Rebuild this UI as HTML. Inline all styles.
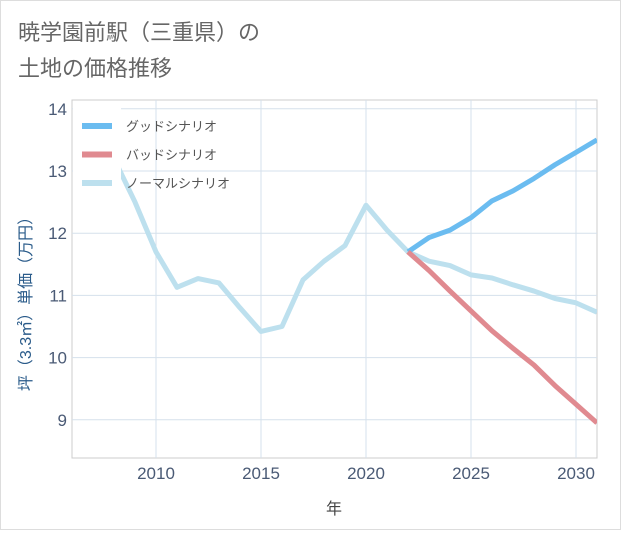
<!DOCTYPE html><html><head><meta charset="utf-8"><style>body{margin:0;background:#fff}svg{font-family:"Liberation Sans","Noto Sans CJK JP",sans-serif}</style></head><body>
<svg width="621" height="530">
<rect x="0.5" y="0.5" width="620" height="529" fill="#fff" stroke="#ddd"/>
<text x="18" y="40" font-size="22" fill="#666">暁学園前駅（三重県）の</text>
<text x="18" y="76" font-size="22" fill="#666">土地の価格推移</text>
<g id="grid"></g><g id="lines"></g>
<text x="334" y="514" font-size="16" fill="#444" text-anchor="middle">年</text>
<text transform="translate(31,300) rotate(-90)" font-size="16" fill="#2a5b8a" text-anchor="middle">坪（3.3㎡）単価（万円）</text>
</svg>
<script>
const years=[2008,2009,2010,2011,2012,2013,2014,2015,2016,2017,2018,2019,2020,2021,2022,2023,2024,2025,2026,2027,2028,2029,2030,2031];
const normal=[13.2,12.5,11.7,11.13,11.27,11.2,10.8,10.42,10.5,11.25,11.55,11.8,12.45,12.05,11.7,11.55,11.48,11.33,11.28,11.17,11.07,10.95,10.88,10.73];
const goodYears=[2022,2023,2024,2025,2026,2027,2028,2029,2030,2031];
const good=[11.7,11.93,12.05,12.25,12.52,12.68,12.88,13.1,13.3,13.5];
const bad=[11.7,11.4,11.07,10.75,10.43,10.15,9.88,9.55,9.25,8.95];
const xTicks=[2010,2015,2020,2025,2030];
const yTicks=[9,10,11,12,13,14];
const L=72,R=597,T=100,B=458;
const xs=y=>L+(y-2006)*(R-L)/25;
const ys=v=>171-(v-13)*62.2;
const NS="http://www.w3.org/2000/svg";
const g=document.getElementById('grid'),lg=document.getElementById('lines');
function mk(tag,at,p){const e=document.createElementNS(NS,tag);for(const k in at)e.setAttribute(k,at[k]);p.appendChild(e);return e;}
mk('rect',{x:L,y:T,width:R-L,height:B-T,fill:'none',stroke:'#ccc'},g);
xTicks.forEach(t=>{const e=mk('line',{x1:xs(t),x2:xs(t),y1:T,y2:B,stroke:'#d5e1ec'},g);

const tx=mk('text',{x:xs(t),y:479,'font-size':17,fill:'#4a5a75','text-anchor':'middle'},g);tx.textContent=t;
});
yTicks.forEach(t=>{const e=mk('line',{x1:L,x2:R,y1:ys(t),y2:ys(t),stroke:'#d5e1ec'},g);

const tx=mk('text',{x:67,y:ys(t)+6,'font-size':17,fill:'#4a5a75','text-anchor':'end'},g);tx.textContent=t;
});
function line(xsArr,vals,col,name){const d=vals.map((v,i)=>(i?'L':'M')+xs(xsArr[i])+','+ys(v)).join('');
const p=mk('path',{d:d,fill:'none',stroke:col,'stroke-width':5,'stroke-linejoin':'round'},lg);
}
const cp=mk('clipPath',{id:'c'},lg);mk('rect',{x:L,y:T,width:R-L,height:B-T},cp);lg.setAttribute('clip-path','url(#c)');
line(years,normal,'#bde0ee','normal-scenario-line');
line(goodYears,good,'#6bbcf0','good-scenario-line');
line(goodYears,bad,'#e08a90','bad-scenario-line');
const svg=document.querySelector('svg');
mk('rect',{x:73,y:104,width:48,height:96,fill:'#fff'},svg);
[['グッドシナリオ','#6bbcf0'],['バッドシナリオ','#e08a90'],['ノーマルシナリオ','#bde0ee']].forEach((it,i)=>{
const y=126+i*28.5;const ln=mk('line',{x1:82,x2:112,y1:y,y2:y,stroke:it[1],'stroke-width':6},svg);

const t=mk('text',{x:126,y:y+5,'font-size':13,fill:'#555'},svg);t.textContent=it[0];
});
</script></body></html>
